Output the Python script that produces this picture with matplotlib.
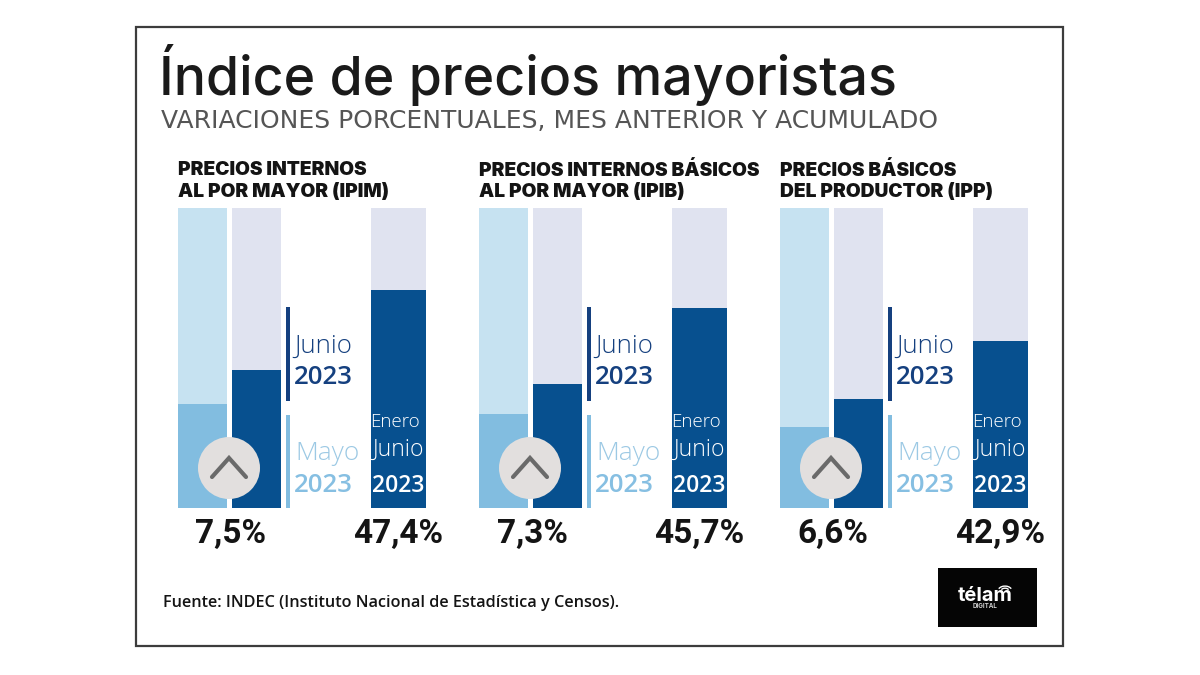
import matplotlib
matplotlib.use("Agg")
import matplotlib.pyplot as plt
from matplotlib.patches import Arc, Circle, Rectangle

# Textos
titulo = "Índice de precios mayoristas"
subtitulo = "VARIACIONES PORCENTUALES, MES ANTERIOR Y ACUMULADO"
fuente = "Fuente: INDEC (Instituto Nacional de Estadística y Censos)."
encabezados = [
    "PRECIOS INTERNOS\nAL POR MAYOR (IPIM)",
    "PRECIOS INTERNOS BÁSICOS\nAL POR MAYOR (IPIB)",
    "PRECIOS BÁSICOS\nDEL PRODUCTOR (IPP)",
]

# Valores rotulados
junio_rotulo = ["7,5%", "7,3%", "6,6%"]
acumulado_rotulo = ["47,4%", "45,7%", "42,9%"]

# Relleno de cada barra, en % de su columna (el original no usa una escala comun)
mayo_relleno = [34.7, 31.3, 27.0]
junio_relleno = [46.0, 41.3, 36.3]
acumulado_relleno = [72.7, 66.7, 55.7]

CELESTE_FONDO = "#c6e2f1"
CELESTE = "#82bde0"
LILA = "#e0e3f0"
AZUL = "#07508f"
AZUL_TEXTO = "#15407f"
NEGRO = "#141414"

paneles_x = [178, 479, 780]

fig = plt.figure(figsize=(12, 6.75), dpi=100, facecolor="white")


def px_axes(x0, y0, x1, y1):
    # ejes ubicados con pixeles de la imagen (y hacia abajo)
    return fig.add_axes([x0 / 1200, 1 - y1 / 675, (x1 - x0) / 1200, (y1 - y0) / 675])


def dibujar_barras(x0, i):
    ax = px_axes(x0, 208, x0 + 252, 508)
    ax.set_xlim(0, 252)
    ax.set_ylim(0, 100)
    ax.axis("off")
    pos = [24.5, 78.5, 220]
    anchos = [49, 49, 55]
    ax.bar(pos, [100, 100, 100], width=anchos, color=[CELESTE_FONDO, LILA, LILA])
    ax.bar(pos, [mayo_relleno[i], junio_relleno[i], acumulado_relleno[i]],
           width=anchos, color=[CELESTE, AZUL, AZUL])


for i, x0 in enumerate(paneles_x):
    dibujar_barras(x0, i)

# Capa de anotaciones en pixeles
ov = fig.add_axes([0, 0, 1, 1], facecolor="none")
ov.set_xlim(0, 1200)
ov.set_ylim(675, 0)
ov.axis("off")

ov.add_patch(Rectangle((136, 27), 927, 619, fill=False, ec="#3c3c3c", lw=1.6))

ov.text(159, 75, titulo, fontsize=38.7, family="Inter", fontweight="medium", color="#1a1a1a",
        va="center", ha="left")
ov.text(161, 121, subtitulo, fontsize=18, family="DejaVu Sans", color="#555555",
        va="center", ha="left")

for i, x0 in enumerate(paneles_x):
    ov.text(x0, 181, encabezados[i], fontsize=13.8, family="Inter", fontweight="black",
            color=NEGRO, va="center", ha="left", linespacing=1.27)

    # leyenda Junio / Mayo
    ov.add_patch(Rectangle((x0 + 107.5, 307), 4.5, 94, color=AZUL_TEXTO, lw=0))
    ov.add_patch(Rectangle((x0 + 107.5, 415), 4.5, 93, color=CELESTE, lw=0))
    ov.text(x0 + 116, 346, "Junio", fontsize=18.5, family="Open Sans", fontweight="light",
            color=AZUL_TEXTO, va="center", ha="left")
    ov.text(x0 + 116, 378, "2023", fontsize=18.5, family="Open Sans", fontweight="semibold",
            color=AZUL_TEXTO, va="center", ha="left")
    ov.text(x0 + 117, 454, "Mayo", fontsize=19, family="Open Sans", fontweight="light",
            color="#9cc9e4", va="center", ha="left")
    ov.text(x0 + 116, 486, "2023", fontsize=18.5, family="Open Sans", fontweight="semibold",
            color="#86bfe2", va="center", ha="left")

    # texto dentro de la barra acumulada
    ov.text(x0 + 217, 422, "Enero", fontsize=13.5, family="Open Sans", fontweight="light",
            color="white", va="center", ha="center")
    ov.text(x0 + 220, 450, "Junio", fontsize=16.5, family="Open Sans", fontweight="light",
            color="white", va="center", ha="center")
    ov.text(x0 + 220, 486, "2023", fontsize=16.5, family="Open Sans", fontweight="semibold",
            color="white", va="center", ha="center")

    # circulo con flecha
    ov.add_patch(Circle((x0 + 51, 468), 31, color="#e2dfde", lw=0))
    ov.plot([x0 + 34, x0 + 51, x0 + 68], [477, 458, 477], color="#6a6a6a", lw=3,
            solid_capstyle="round", solid_joinstyle="miter")

    # rotulos de valor
    ov.text(x0 + 53, 534, junio_rotulo[i], fontsize=24, fontweight="bold",
            family="Roboto", color=NEGRO, va="center", ha="center")
    ov.text(x0 + 220, 534, acumulado_rotulo[i], fontsize=24, fontweight="bold",
            family="Roboto", color=NEGRO, va="center", ha="center")

ov.text(163, 603, fuente, fontsize=11.7, family="Open Sans", fontweight="semibold",
        color=NEGRO, va="center", ha="left")

# Logo
ov.add_patch(Rectangle((938, 568), 99, 59, color="#050505", lw=0))
ov.text(985, 596, "télam", fontsize=14.5, family="Inter", fontweight="bold",
        color="white", va="center", ha="center")
ov.text(985, 606, "DIGITAL", fontsize=4.5, family="Inter", fontweight="bold",
        color="#cccccc", va="center", ha="center")
for ancho in (14, 8):
    ov.add_patch(Arc((1005, 591), ancho, ancho * 0.7, theta1=200, theta2=340, color="white", lw=1))

fig.savefig("out.png", dpi=100, facecolor="white")
